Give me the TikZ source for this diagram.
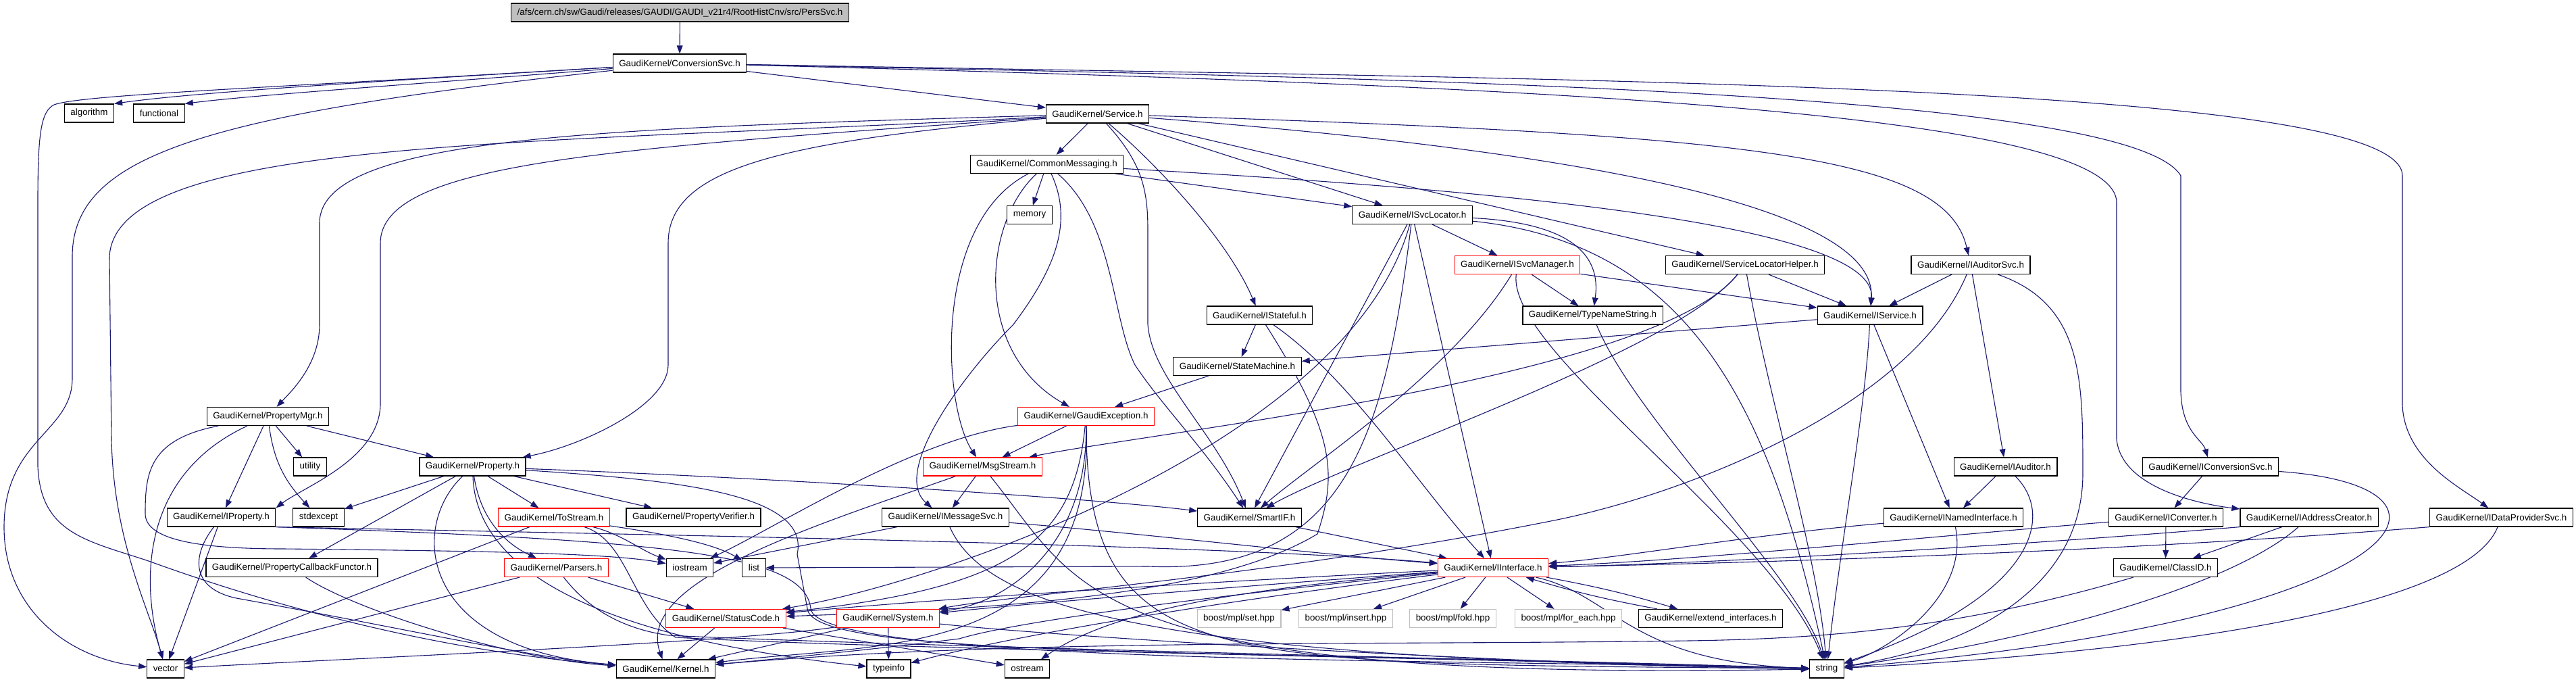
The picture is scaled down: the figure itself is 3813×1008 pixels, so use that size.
\documentclass[tikz,border=0pt]{standalone}
\usepackage{fontspec}
\newfontfamily\graphfont{Liberation Sans}
\usepackage{tikz}
\usetikzlibrary{arrows.meta, backgrounds}
\definecolor{edgeblue}{HTML}{191970}
\definecolor{rootgray}{HTML}{BFBFBF}

\begin{document}
\begin{tikzpicture}[x=0.5pt, y=-0.5pt, >={Triangle[length=6pt,width=4.4pt]}]
    % Stili
    \tikzstyle{hdr} = [draw, rectangle, fill=white, line width=0.6pt, minimum height=13.5pt, inner xsep=4.5pt, inner ysep=0pt, font=\graphfont\fontsize{6.7}{8}\selectfont]
    \tikzstyle{hdrroot} = [hdr, fill=rootgray]
    \tikzstyle{hdrtrunc} = [hdr, draw=red]
    \tikzstyle{hdrsys} = [hdr, draw=rootgray]
    \tikzstyle{dep} = [->, draw=edgeblue, line width=0.55pt]

    \useasboundingbox (0,0) rectangle (3813,1008);

    % Nodi
    \node [hdrroot] (perssvc) at (1006.5,18.5) {/afs/cern.ch/sw/Gaudi/releases/GAUDI/GAUDI\_v21r4/RootHistCnv/src/PersSvc.h};
    \node [hdr] (convsvc) at (1006,93.5) {GaudiKernel/ConversionSvc.h};
    \node [hdr] (algorithm) at (132,167.5) {algorithm};
    \node [hdr] (functional) at (235.5,167.5) {functional};
    \node [hdr] (service) at (1624.5,168.5) {GaudiKernel/Service.h};
    \node [hdr] (commsg) at (1549.5,243) {GaudiKernel/CommonMessaging.h};
    \node [hdr] (memory) at (1524,318) {memory};
    \node [hdr] (isvcloc) at (2090.5,318) {GaudiKernel/ISvcLocator.h};
    \node [hdrtrunc] (isvcmgr) at (2246,392) {GaudiKernel/ISvcManager.h};
    \node [hdr] (slhelper) at (2583,392) {GaudiKernel/ServiceLocatorHelper.h};
    \node [hdr] (iauditsvc) at (2917,392) {GaudiKernel/IAuditorSvc.h};
    \node [hdr] (istateful) at (1864.5,466.5) {GaudiKernel/IStateful.h};
    \node [hdr] (typename) at (2357.5,466.5) {GaudiKernel/TypeNameString.h};
    \node [hdr] (iservice) at (2768,466.5) {GaudiKernel/IService.h};
    \node [hdr] (statemach) at (1831.5,542) {GaudiKernel/StateMachine.h};
    \node [hdr] (propmgr) at (396.5,616) {GaudiKernel/PropertyMgr.h};
    \node [hdrtrunc] (gaudiexc) at (1607.5,616) {GaudiKernel/GaudiException.h};
    \node [hdr] (utility) at (459,690.5) {utility};
    \node [hdr] (property) at (699.5,690.5) {GaudiKernel/Property.h};
    \node [hdrtrunc] (msgstream) at (1454.5,690.5) {GaudiKernel/MsgStream.h};
    \node [hdr] (iauditor) at (2968.5,690.5) {GaudiKernel/IAuditor.h};
    \node [hdr] (iconvsvc) at (3272,690.5) {GaudiKernel/IConversionSvc.h};
    \node [hdr] (iproperty) at (327.5,765.5) {GaudiKernel/IProperty.h};
    \node [hdr] (stdexcept) at (471.5,765.5) {stdexcept};
    \node [hdrtrunc] (tostream) at (820,765.5) {GaudiKernel/ToStream.h};
    \node [hdr] (propverif) at (1026.5,765.5) {GaudiKernel/PropertyVerifier.h};
    \node [hdr] (imsgsvc) at (1399.5,765.5) {GaudiKernel/IMessageSvc.h};
    \node [hdr] (smartif) at (1849.5,765.5) {GaudiKernel/SmartIF.h};
    \node [hdr] (inamedif) at (2891.5,765.5) {GaudiKernel/INamedInterface.h};
    \node [hdr] (iconverter) at (3206,765.5) {GaudiKernel/IConverter.h};
    \node [hdr] (iaddrcr) at (3418,765.5) {GaudiKernel/IAddressCreator.h};
    \node [hdr] (idataprov) at (3702.5,765.5) {GaudiKernel/IDataProviderSvc.h};
    \node [hdr] (propcbf) at (432,840) {GaudiKernel/PropertyCallbackFunctor.h};
    \node [hdrtrunc] (parsers) at (823.5,840) {GaudiKernel/Parsers.h};
    \node [hdr] (iostream) at (1021,840) {iostream};
    \node [hdr] (list) at (1116,840) {list};
    \node [hdrtrunc] (iinterface) at (2210,840) {GaudiKernel/IInterface.h};
    \node [hdr] (classid) at (3205.5,840) {GaudiKernel/ClassID.h};
    \node [hdrtrunc] (statuscode) at (1074.5,915) {GaudiKernel/StatusCode.h};
    \node [hdrtrunc] (system) at (1314.5,915) {GaudiKernel/System.h};
    \node [hdrsys] (mplset) at (1834,915) {boost/mpl/set.hpp};
    \node [hdrsys] (mplinsert) at (1992,915) {boost/mpl/insert.hpp};
    \node [hdrsys] (mplfold) at (2150.5,915) {boost/mpl/fold.hpp};
    \node [hdrsys] (mplforeach) at (2321.5,915) {boost/mpl/for\_each.hpp};
    \node [hdr] (extendif) at (2532,915) {GaudiKernel/extend\_interfaces.h};
    \node [hdr] (vector) at (245,989.5) {vector};
    \node [hdr] (kernel) at (985.5,989.5) {GaudiKernel/Kernel.h};
    \node [hdr] (typeinfo) at (1315.5,989.5) {typeinfo};
    \node [hdr] (ostream) at (1520.5,989.5) {ostream};
    \node [hdr] (string) at (2704,989.5) {string};

    \begin{scope}[on background layer]
    \fill [white] (0,0) rectangle (3813,1008);

    % Collegamenti: ConversionSvc
    \draw [dep] (perssvc) -- (convsvc);
    \draw [dep] (convsvc) .. controls (600,118) and (300,135) .. (algorithm.north east);
    \draw [dep] (convsvc) .. controls (650,122) and (380,140) .. (functional.north east);
    \draw [dep] (convsvc) -- (service);
    \draw [dep] (convsvc) .. controls (400,130) and (120,140) .. (80,155) .. controls (60,165) and (56,200) .. (56,300) -- (56,690) .. controls (60,790) and (130,800) .. (220,830) .. controls (330,870) and (600,960) .. (kernel);
    \draw [dep] (convsvc) .. controls (300,170) and (107,230) .. (107,380) -- (107,560) .. controls (107,640) and (6,650) .. (6,780) .. controls (6,900) and (100,975) .. (vector);
    \draw [dep] (convsvc) .. controls (2000,115) and (3150,130) .. (3228,260) -- (3228,580) .. controls (3230,640) and (3260,650) .. (iconvsvc);
    \draw [dep] (convsvc) .. controls (2300,118) and (3556,120) .. (3556,260) -- (3556,600) .. controls (3560,680) and (3640,720) .. (idataprov);
    \draw [dep] (convsvc) .. controls (2200,125) and (3133,160) .. (3133,300) -- (3133,650) .. controls (3140,720) and (3250,745) .. (iaddrcr);

    % Service
    \draw [dep] (service) -- (commsg);
    \draw [dep] (service) .. controls (900,190) and (473,200) .. (473,330) -- (473,480) .. controls (473,540) and (430,580) .. (propmgr);
    \draw [dep] (service) .. controls (800,215) and (170,200) .. (162,380) -- (165,650) .. controls (168,800) and (220,900) .. (vector);
    \draw [dep] (service) .. controls (900,220) and (563,240) .. (563,360) -- (563,600) .. controls (560,680) and (450,720) .. (iproperty.north east);
    \draw [dep] (service) .. controls (1150,210) and (989,250) .. (989,360) -- (989,540) .. controls (989,600) and (860,660) .. (property);
    \draw [dep] (service) .. controls (1720,250) and (1820,360) .. (istateful);
    \draw [dep] (service) .. controls (1690,240) and (1699,280) .. (1699,340) -- (1699,480) .. controls (1705,560) and (1800,640) .. (smartif);
    \draw [dep] (service) -- (isvcloc);
    \draw [dep] (service) -- (slhelper);
    \draw [dep] (service) .. controls (2300,220) and (2780,300) .. (iservice);
    \draw [dep] (service) .. controls (2600,200) and (2880,230) .. (iauditsvc);

    % CommonMessaging
    \draw [dep] (commsg) -- (memory);
    \draw [dep] (commsg) -- (isvcloc);
    \draw [dep] (commsg) .. controls (2200,280) and (2780,330) .. (iservice);
    \draw [dep] (commsg) .. controls (1455,330) and (1440,520) .. (gaudiexc);
    \draw [dep] (commsg) .. controls (1380,330) and (1395,600) .. (msgstream);
    \draw [dep] (commsg) .. controls (1590,330) and (1560,400) .. (1500,480) .. controls (1420,560) and (1320,700) .. ([xshift=-10pt]imsgsvc.north);
    \draw [dep] (commsg) .. controls (1650,330) and (1645,470) .. (1680,540) .. controls (1720,600) and (1780,660) .. (smartif);

    % ISvcLocator, ISvcManager, ServiceLocatorHelper
    \draw [dep] (isvcloc) -- (isvcmgr);
    \draw [dep] (isvcloc) .. controls (2330,330) and (2370,380) .. (typename);
    \draw [dep] (isvcloc) .. controls (2500,360) and (2620,600) .. (string);
    \draw [dep] (isvcloc) -- (smartif);
    \draw [dep] (isvcloc) -- (iinterface);
    \draw [dep] (isvcloc) .. controls (2000,650) and (1400,860) .. (statuscode);
    \draw [dep] (isvcloc) .. controls (2050,650) and (1990,850) .. (1700,838) -- (list);
    \draw [dep] (isvcmgr) -- (iservice);
    \draw [dep] (isvcmgr) -- (typename);
    \draw [dep] (isvcmgr) .. controls (2150,550) and (1950,680) .. (smartif);
    \draw [dep] (isvcmgr) .. controls (2230,520) and (2620,780) .. (string);
    \draw [dep] (slhelper) -- (iservice);
    \draw [dep] (slhelper) .. controls (2480,520) and (2000,680) .. (smartif);
    \draw [dep] (slhelper) .. controls (2450,560) and (1700,640) .. (msgstream);
    \draw [dep] (slhelper) .. controls (2620,600) and (2690,820) .. (string);
    \draw [dep] (typename) .. controls (2420,620) and (2660,850) .. (string);

    % IAuditorSvc, IService, IStateful
    \draw [dep] (iauditsvc) -- (iservice);
    \draw [dep] (iauditsvc) -- (iauditor);
    \draw [dep] (iauditsvc) .. controls (3083,450) and (3083,560) .. (3083,700) .. controls (3083,880) and (2900,960) .. (string);
    \draw [dep] (iauditsvc) .. controls (2830,600) and (2500,730) .. (2300,770) .. controls (1900,850) and (1500,880) .. (system);
    \draw [dep] (iservice) -- (statemach);
    \draw [dep] (iservice) -- (inamedif);
    \draw [dep] (iservice) .. controls (2762,600) and (2725,800) .. (string);
    \draw [dep] (istateful) -- (statemach);
    \draw [dep] (istateful) .. controls (2000,560) and (2100,720) .. (iinterface);
    \draw [dep] (istateful) .. controls (1975,640) and (1980,700) .. (1950,790) .. controls (1800,880) and (1500,900) .. (statuscode);
    \draw [dep] (statemach) -- (gaudiexc);

    % colonna di destra
    \draw [dep] (iauditor) -- (inamedif);
    \draw [dep] (iauditor) .. controls (3040,760) and (3020,880) .. (string);
    \draw [dep] (inamedif) .. controls (2600,790) and (2400,825) .. (iinterface);
    \draw [dep] (inamedif) .. controls (2915,880) and (2800,960) .. (string);
    \draw [dep] (iconvsvc) -- (iconverter);
    \draw [dep] (iconvsvc) .. controls (3700,720) and (3560,920) .. (string);
    \draw [dep] (iconverter) -- (classid);
    \draw [dep] (iconverter) .. controls (2900,790) and (2500,830) .. (iinterface);
    \draw [dep] (iaddrcr) -- (classid);
    \draw [dep] (iaddrcr.south west) .. controls (2950,810) and (2500,835) .. (iinterface);
    \draw [dep] (iaddrcr) .. controls (3300,870) and (3000,950) .. (string);
    \draw [dep] (idataprov.south west) .. controls (3100,820) and (2500,835) .. (iinterface);
    \draw [dep] (idataprov) .. controls (3650,900) and (3200,965) .. (string);
    \draw [dep] (classid) .. controls (2900,930) and (2700,945) .. (2500,948) .. controls (2000,955) and (1500,945) .. (kernel);

    % PropertyMgr, Property, IProperty
    \draw [dep] (propmgr) -- (utility);
    \draw [dep] (propmgr) -- (property);
    \draw [dep] (propmgr) -- (iproperty);
    \draw [dep] (propmgr) .. controls (405,680) and (420,710) .. (stdexcept);
    \draw [dep] (propmgr) .. controls (215,700) and (205,850) .. (vector);
    \draw [dep] (propmgr) .. controls (220,650) and (215,700) .. (215,760) .. controls (215,800) and (300,812) .. (420,812) .. controls (700,815) and (900,818) .. (iostream);
    \draw [dep] (property) -- (stdexcept);
    \draw [dep] (property) -- (propcbf);
    \draw [dep] (property) .. controls (710,760) and (740,800) .. (parsers);
    \draw [dep] (property) -- (tostream);
    \draw [dep] (property) -- (propverif);
    \draw [dep] (property) .. controls (1100,705) and (1600,735) .. (smartif);
    \draw [dep] (property) .. controls (1000,710) and (1200,730) .. (1180,820) -- (1195,900) .. controls (1200,975) and (1800,960) .. (string);
    \draw [dep] (property) .. controls (605,780) and (620,960) .. (kernel);
    \draw [dep] (property) .. controls (705,850) and (900,945) .. (typeinfo);
    \draw [dep] (iproperty) -- (vector);
    \draw [dep] (iproperty) .. controls (285,820) and (280,870) .. (350,885) .. controls (600,930) and (800,975) .. (kernel);
    \draw [dep] (iproperty.south east) .. controls (900,790) and (1800,805) .. (iinterface);
    \draw [dep] (iproperty.south east) .. controls (1000,800) and (1190,820) .. (1200,900) .. controls (1205,985) and (2200,975) .. (string);
    \draw [dep] (propcbf) .. controls (520,900) and (750,975) .. (kernel);

    % ToStream, Parsers
    \draw [dep] (tostream) -- (vector);
    \draw [dep] (tostream) .. controls (920,790) and (950,815) .. (iostream);
    \draw [dep] (tostream) .. controls (950,785) and (1050,800) .. (list);
    \draw [dep] (tostream) .. controls (930,800) and (935,900) .. (1000,943) .. controls (1300,960) and (2200,975) .. (string);
    \draw [dep] (parsers) -- (vector);
    \draw [dep] (parsers) -- (statuscode);
    \draw [dep] (parsers) .. controls (870,900) and (920,930) .. (990,940) .. controls (1300,955) and (2200,975) .. (string);

    % MsgStream, IMessageSvc, GaudiException
    \draw [dep] (msgstream) -- (imsgsvc);
    \draw [dep] (msgstream) .. controls (1200,780) and (940,860) .. (kernel);
    \draw [dep] (msgstream) .. controls (1600,870) and (1600,1010) .. (string);
    \draw [dep] (imsgsvc) -- (iostream);
    \draw [dep] (imsgsvc) .. controls (1700,790) and (1950,820) .. (iinterface);
    \draw [dep] (imsgsvc) .. controls (1460,900) and (1700,975) .. (string);
    \draw [dep] (gaudiexc) .. controls (1350,650) and (1150,780) .. (iostream);
    \draw [dep] (gaudiexc) -- (msgstream);
    \draw [dep] (gaudiexc) .. controls (1590,800) and (1500,870) .. (statuscode);
    \draw [dep] (gaudiexc) .. controls (1610,800) and (1500,890) .. (system);
    \draw [dep] (gaudiexc) .. controls (1620,980) and (1300,950) .. (kernel);
    \draw [dep] (gaudiexc) .. controls (1610,1000) and (1800,980) .. (string);
    \draw [dep] (smartif) -- (iinterface);

    % StatusCode, System, IInterface
    \draw [dep] (statuscode) -- (kernel);
    \draw [dep] (statuscode) -- (ostream);
    \draw [dep] (system) -- (typeinfo);
    \draw [dep] (system) -- (kernel);
    \draw [dep] (system) .. controls (1600,945) and (2300,985) .. (string);
    \draw [dep] (system) .. controls (1100,950) and (500,975) .. (vector);
    \draw [dep] (iinterface) .. controls (1800,860) and (1400,885) .. (statuscode);
    \draw [dep] (iinterface) .. controls (1800,870) and (1500,895) .. (system);
    \draw [dep] (iinterface) .. controls (1800,880) and (1500,920) .. (1420,945) .. controls (1300,960) and (1150,975) .. (kernel);
    \draw [dep] (iinterface) .. controls (1800,890) and (1500,940) .. (typeinfo);
    \draw [dep] (iinterface) .. controls (1850,870) and (1650,900) .. (ostream);
    \draw [dep] (iinterface) .. controls (2390,880) and (2410,980) .. (string);
    \draw [dep] (iinterface) -- (mplset);
    \draw [dep] (iinterface) -- (mplinsert);
    \draw [dep] (iinterface) -- (mplfold);
    \draw [dep] (iinterface) -- (mplforeach);
    \draw [dep] (iinterface) to [bend left=3] (extendif);
    \draw [dep] (extendif) to [bend left=3] (iinterface);
    \end{scope}
\end{tikzpicture}
\end{document}
